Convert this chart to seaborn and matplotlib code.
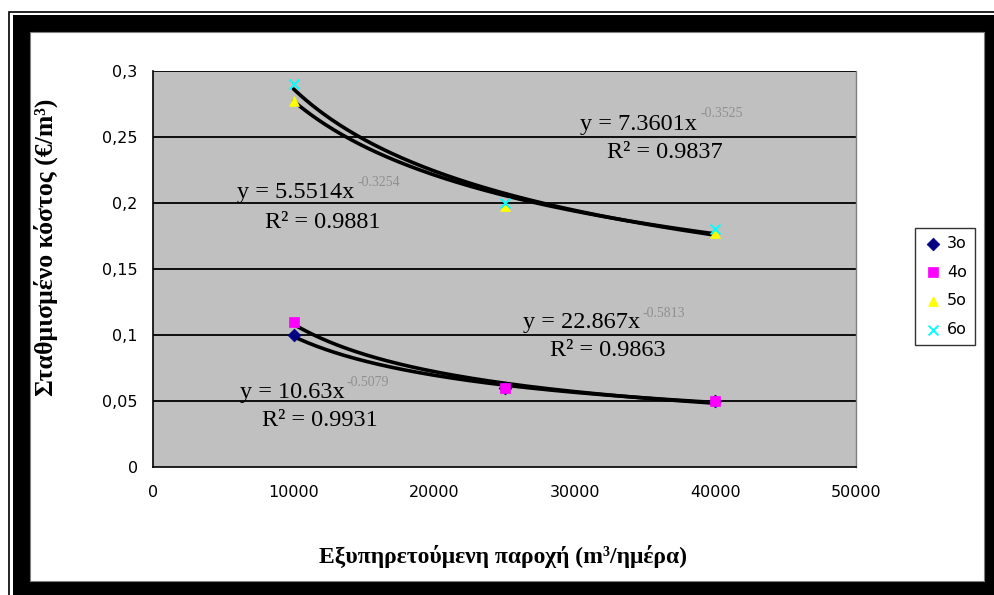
import numpy as np
import pandas as pd
import matplotlib
matplotlib.use("Agg")
import matplotlib.pyplot as plt
from matplotlib.patches import Rectangle
import seaborn as sns

# ---- data ----
x_values = [10000, 25000, 40000]
series_names = ["3o", "4o", "5o", "6o"]
y_3o = [0.100, 0.060, 0.050]
y_4o = [0.110, 0.060, 0.050]
y_5o = [0.277, 0.198, 0.177]
y_6o = [0.290, 0.200, 0.180]

# power trendlines shown on the chart: y = a * x^b
trend_a = [10.63, 22.867, 5.5514, 7.3601]
trend_b = [-0.5079, -0.5813, -0.3254, -0.3525]
trend_r2 = ["0.9931", "0.9863", "0.9881", "0.9837"]
trend_a_txt = ["10.63", "22.867", "5.5514", "7.3601"]
trend_b_txt = ["-0.5079", "-0.5813", "-0.3254", "-0.3525"]

x_ticks = [0, 10000, 20000, 30000, 40000, 50000]
y_ticks = [0, 0.05, 0.1, 0.15, 0.2, 0.25, 0.3]
y_tick_labels = ["0", "0,05", "0,1", "0,15", "0,2", "0,25", "0,3"]

x_label = "Εξυπηρετούμενη παροχή (m³/ημέρα)"
y_label = "Σταθμισμένο κόστος (€/m³)"

# ---- styles ----
colors = {"3o": "#000080", "4o": "#FF00FF", "5o": "#FFFF00", "6o": "#00FFFF"}
markers = {"3o": "D", "4o": "s", "5o": "^", "6o": "x"}

sns.set_theme(style="white")
plt.rcParams["font.family"] = ["DejaVu Sans"]
plt.rcParams["text.color"] = "black"

W, H = 994, 595
fig = plt.figure(figsize=(W / 100, H / 100), dpi=100)
fig.patch.set_facecolor("white")

def fx(px):
    return px / W

def fy(py):
    return 1 - py / H

# frame (behind the axes)
fig.add_artist(Rectangle((fx(9), fy(700)), fx(1100), fy(12) - fy(700),
                         transform=fig.transFigure, fill=False, edgecolor="black", lw=1.2, zorder=-12))
fig.add_artist(Rectangle((fx(13), fy(700)), fx(1100), fy(15) - fy(700),
                         transform=fig.transFigure, facecolor="black", edgecolor="none", zorder=-11))
fig.add_artist(Rectangle((fx(30), fy(581)), fx(984) - fx(30), fy(32) - fy(581),
                         transform=fig.transFigure, facecolor="white", edgecolor="#808080", lw=0.8, zorder=-10))

ax = fig.add_axes([fx(153), fy(467), fx(856) - fx(153), fy(71) - fy(467)])
ax.set_facecolor("#C0C0C0")

ys = {"3o": y_3o, "4o": y_4o, "5o": y_5o, "6o": y_6o}
rows = []
for name in series_names:
    for xv, yv in zip(x_values, ys[name]):
        rows.append({"x": xv, "y": yv, "series": name})
df = pd.DataFrame(rows)

for yt in y_ticks[1:]:
    ax.axhline(yt, color="black", lw=1.3, zorder=1)

# trendlines
xx = np.linspace(x_values[0], x_values[-1], 200)
for a, b in zip(trend_a, trend_b):
    sns.lineplot(x=xx, y=a * xx ** b, ax=ax, color="black", lw=2.6, zorder=3)

for name in series_names:
    sub = df[df["series"] == name]
    if markers[name] == "x":
        sns.scatterplot(data=sub, x="x", y="y", ax=ax, marker="x", color=colors[name],
                        s=50, linewidth=1.4, zorder=4, label=name)
    else:
        sns.scatterplot(data=sub, x="x", y="y", ax=ax, marker=markers[name], color=colors[name],
                        s=50 if name != "3o" else 42, edgecolor=colors[name], linewidth=0.5,
                        zorder=4, label=name)

ax.set_xlim(0, 50000)
ax.set_ylim(0, 0.3)
ax.set_xticks(x_ticks)
ax.set_xticklabels([str(v) for v in x_ticks])
ax.set_yticks(y_ticks)
ax.set_yticklabels(y_tick_labels)
ax.tick_params(axis="both", direction="out", length=5, width=1, color="black",
               labelsize=11.5, labelcolor="black", pad=6)
ax.tick_params(axis="x", pad=8)
for s in ["left", "bottom"]:
    ax.spines[s].set_color("black")
    ax.spines[s].set_linewidth(1.2)
ax.spines["top"].set_visible(False)
ax.spines["right"].set_color("#808080")
ax.spines["right"].set_linewidth(1.0)

ax.set_xlabel("")
ax.set_ylabel("")
fig.text(fx(503), fy(556), x_label, ha="center", va="center", color="black",
         fontsize=17, fontweight="bold", family=["Liberation Serif", "DejaVu Serif"])
fig.text(fx(46), fy(247), y_label, ha="center", va="center", rotation=90, color="black",
         fontsize=18.5, fontweight="bold", family=["Liberation Serif", "DejaVu Serif"])

# equation annotations (data coords)
eq_pos = [  # (x_eq, y_eq, x_exp, y_exp, x_r2, y_r2) in data units
    (6188, 0.0568, 13798, 0.0640, 7752, 0.0356),
    (26316, 0.1091, 34780, 0.1163, 28236, 0.0886),
    (5974, 0.2083, 14580, 0.2156, 7966, 0.1856),
    (30370, 0.2591, 38905, 0.2678, 32290, 0.2379),
]
serif = ["Liberation Serif", "DejaVu Serif"]
for i, (xe, ye, xp, yp, xr, yr) in enumerate(eq_pos):
    ax.text(xe, ye, f"y = {trend_a_txt[i]}x", ha="left", va="center",
            fontsize=17.5, family=serif, color="black", zorder=5)
    ax.text(xp, yp, trend_b_txt[i], ha="left", va="center",
            fontsize=10, family=serif, color="#909090", zorder=5)
    ax.text(xr, yr, f"R² = {trend_r2[i]}", ha="left", va="center",
            fontsize=17.5, family=serif, color="black", zorder=5)

if ax.legend_:
    ax.legend_.remove()
handles, labels = ax.get_legend_handles_labels()
leg = fig.legend(handles, labels, loc="upper left", bbox_to_anchor=(fx(915), fy(228)),
                 frameon=True, fancybox=False, shadow=False, fontsize=11.5,
                 handletextpad=0.3, handlelength=1.2, borderpad=0.5, labelspacing=0.85,
                 borderaxespad=0)
leg.get_frame().set_edgecolor("black")
leg.get_frame().set_linewidth(1.0)
leg.get_frame().set_facecolor("white")
for t in leg.get_texts():
    t.set_color("black")

fig.savefig("out.png", dpi=100)
